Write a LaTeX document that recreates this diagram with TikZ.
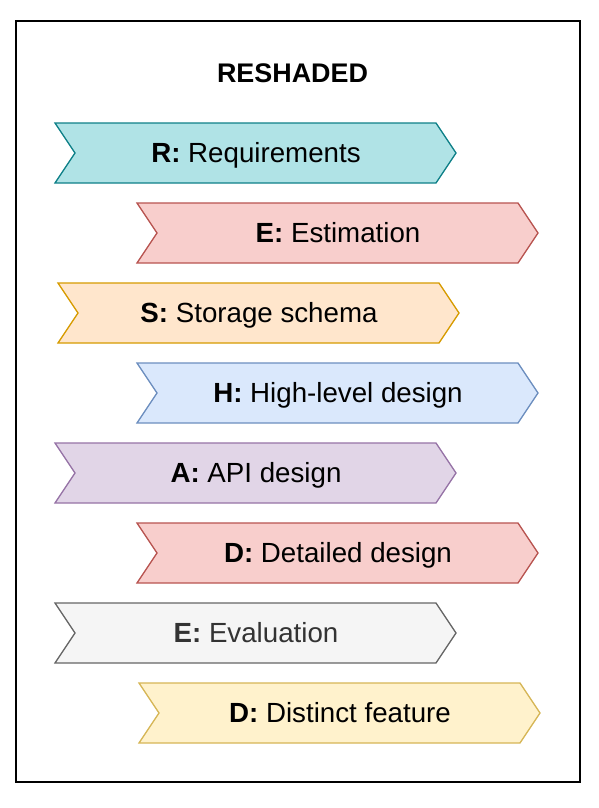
\documentclass[tikz,border=0pt]{standalone}
\usepackage{fontspec}
\setmainfont{Liberation Sans}
\definecolor{tealF}{HTML}{B0E3E6}\definecolor{tealD}{HTML}{0E8088}
\definecolor{redF}{HTML}{F8CECC}\definecolor{redD}{HTML}{B85450}
\definecolor{orgF}{HTML}{FFE6CC}\definecolor{orgD}{HTML}{D79B00}
\definecolor{bluF}{HTML}{DAE8FC}\definecolor{bluD}{HTML}{6C8EBF}
\definecolor{purF}{HTML}{E1D5E7}\definecolor{purD}{HTML}{9673A6}
\definecolor{gryF}{HTML}{F5F5F5}\definecolor{gryD}{HTML}{666666}\definecolor{gryT}{HTML}{333333}
\definecolor{ylwF}{HTML}{FFF2CC}\definecolor{ylwD}{HTML}{D6B656}
\newcommand{\chevshape}[6]{% name, left x, top y, fill, draw, label
  \draw[chevline, fill=#4, draw=#5] (#2,#3) -- ({#2+381},#3) -- ({#2+401},{#3+30}) -- ({#2+381},{#3+60}) -- (#2,{#3+60}) -- ({#2+20},{#3+30}) -- cycle;
  \node[chevtext] (#1) at ({#2+201},{#3+39}) {#6};
}
\begin{document}
\begin{tikzpicture}[x=1pt,y=-1pt,
  chevline/.style={line width=1.3pt, line join=miter},
  chevtext/.style={font=\fontsize{27.7}{32}\selectfont, text=black, inner sep=0pt, anchor=base},
  frame/.style={draw=black, line width=2pt, fill=white}]
\useasboundingbox (0,0) rectangle (598,808);
\fill[white] (0,0) rectangle (598,808);
\draw[frame] (16,21) rectangle (580,782);
\node[font=\fontsize{26.9}{30}\selectfont\bfseries, inner sep=0pt, anchor=base] (title) at (292.5,82) {RESHADED};
\chevshape{r}{55}{123}{tealF}{tealD}{\textbf{R:} Requirements}
\chevshape{e1}{137}{203}{redF}{redD}{\textbf{E:} Estimation}
\chevshape{s}{58}{283}{orgF}{orgD}{\textbf{S:} Storage schema}
\chevshape{h}{137}{363}{bluF}{bluD}{\textbf{H:} High-level design}
\chevshape{a}{55}{443}{purF}{purD}{\textbf{A:} API design}
\chevshape{d1}{137}{523}{redF}{redD}{\textbf{D:} Detailed design}
\chevshape{e2}{55}{603}{gryF}{gryD}{\textcolor{gryT}{\textbf{E:} Evaluation}}
\chevshape{d2}{139}{683}{ylwF}{ylwD}{\textbf{D:} Distinct feature}
\end{tikzpicture}
\end{document}
